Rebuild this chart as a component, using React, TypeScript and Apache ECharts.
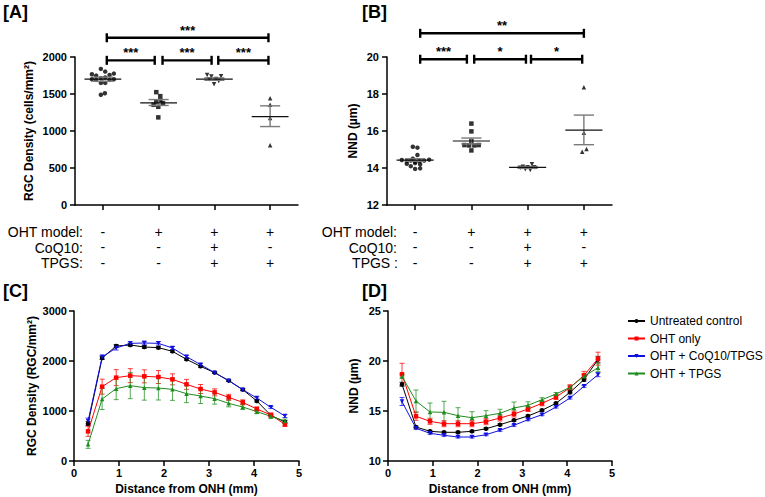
import React, { useEffect, useRef } from 'react';
import * as echarts from 'echarts';

const FONT = '"Liberation Sans", Arial, Helvetica, sans-serif';

// Treatment rows (panels A & B)
const ohtModel = ['-', '+', '+', '+'];
const coq10 = ['-', '-', '+', '-'];
const tpgs = ['-', '-', '+', '+'];
const groupPos = [1, 2, 3, 4];

// Panel A: RGC density scatter (values + horizontal jitter)
const aCtrlVals = [1839, 1767, 1749, 1803, 1758, 1776, 1700, 1691, 1713, 1722, 1691, 1700, 1650, 1650, 1489, 1511];
const aCtrlJit = [-0.036, -0.197, -0.12, 0.042, 0.12, 0.197, -0.197, -0.12, -0.036, 0.042, 0.12, 0.197, -0.036, 0.042, -0.036, 0.036];
const aOhtVals = [1525, 1471, 1399, 1413, 1377, 1354, 1327, 1184];
const aOhtJit = [-0.042, 0.03, -0.042, 0.03, 0.078, -0.09, -0.006, -0.006];
const aCoqVals = [1758, 1735, 1740, 1700, 1704, 1677, 1632];
const aCoqJit = [-0.13, -0.054, 0.12, -0.09, 0.03, 0.078, -0.006];
const aTpgsVals = [1444, 1354, 1175, 807];
const aTpgsJit = [0, 0, 0, 0];
const aMeans = [1700, 1381, 1700, 1195];
const aSemLo = [1672, 1345, 1685, 1060];
const aSemHi = [1728, 1425, 1718, 1340];

// Panel B: NND scatter
const bCtrlVals = [15.15, 15.1, 14.7, 14.5, 14.43, 14.38, 14.4, 14.34, 14.38, 14.4, 14.45, 14.23, 14.27, 14.2, 14.1, 13.95, 13.98];
const bCtrlJit = [-0.041, 0.041, 0.041, -0.041, -0.237, -0.148, -0.077, 0, 0.077, 0.16, 0.249, -0.148, 0, 0.089, -0.077, 0, 0.089];
const bOhtVals = [16.4, 15.98, 15.46, 15.24, 15.22, 15.22, 15.24, 14.95];
const bOhtJit = [0, 0, 0, -0.124, -0.041, 0.053, 0.13, 0];
const bCoqVals = [14.07, 14.04, 14.2, 14.02, 13.93, 13.89, 14.04];
const bCoqJit = [-0.083, 0, 0.077, -0.13, -0.041, 0.047, 0.118];
const bTpgsVals = [18.36, 15.91, 14.88, 15.03];
const bTpgsJit = [0, 0, -0.03, 0.047];
const bMeans = [14.43, 15.46, 14.03, 16.05];
const bSemLo = [14.36, 15.3, 13.98, 15.26];
const bSemHi = [14.5, 15.62, 14.08, 16.86];

// Significance brackets [from, to, height]
const aBrackets = [[1.07, 1.93, 1955], [2.07, 2.95, 1955], [3.07, 3.97, 1955], [1.07, 3.97, 2260]];
const aBracketLabels = ['***', '***', '***', '***'];
const bBrackets = [[1.09, 1.92, 19.88], [2.05, 2.97, 19.88], [3.06, 3.97, 19.88], [1.09, 4.0, 21.28]];
const bBracketLabels = ['***', '*', '*', '**'];

// Panels C & D: distance from ONH (mm)
const distances = [0.3125, 0.625, 0.9375, 1.25, 1.5625, 1.875, 2.1875, 2.5, 2.8125, 3.125, 3.4375, 3.75, 4.0625, 4.375, 4.6875];
const seriesNames = ['Untreated control', 'OHT only', 'OHT + CoQ10/TPGS', 'OHT + TPGS'];
const seriesColors = ['#000000', '#ff0000', '#1010e0', '#1e8c1e'];
const seriesSymbols = ['circle', 'rect', 'triangle', 'triangle'];
const seriesRotate = [0, 0, 180, 0];

const cCtrl = [750, 2060, 2300, 2320, 2280, 2267, 2193, 2033, 1893, 1767, 1607, 1427, 1200, 913, 780];
const cOht = [593, 1487, 1667, 1707, 1693, 1680, 1633, 1533, 1440, 1373, 1273, 1173, 1040, 920, 733];
const cCoq = [800, 2080, 2260, 2353, 2360, 2353, 2260, 2087, 1927, 1767, 1607, 1427, 1260, 1073, 900];
const cTpgs = [333, 1240, 1447, 1507, 1467, 1460, 1433, 1347, 1300, 1247, 1153, 1080, 987, 893, 800];
const cCtrlSem = [40, 30, 30, 25, 30, 25, 25, 20, 20, 15, 15, 20, 20, 20, 30];
const cOhtSem = [100, 150, 160, 140, 130, 130, 110, 100, 90, 70, 60, 50, 40, 40, 40];
const cCoqSem = [60, 40, 40, 30, 35, 35, 30, 25, 25, 15, 15, 20, 25, 20, 30];
const cTpgsSem = [80, 210, 220, 260, 250, 240, 220, 180, 150, 110, 70, 50, 40, 40, 40];

const dCtrl = [17.67, 13.4, 12.97, 12.87, 12.87, 12.97, 13.23, 13.63, 14.07, 14.5, 15.07, 15.77, 16.87, 18.13, 20.17];
const dOht = [18.67, 14.47, 13.97, 13.73, 13.73, 13.73, 13.93, 14.3, 14.7, 15.2, 15.77, 16.4, 17.33, 18.57, 20.23];
const dCoq = [15.95, 13.27, 12.77, 12.57, 12.4, 12.4, 12.63, 13.07, 13.57, 14.13, 14.63, 15.4, 16.3, 17.47, 18.63];
const dTpgs = [18.47, 16.0, 14.9, 14.87, 14.53, 14.33, 14.53, 14.77, 15.3, 15.57, 16.13, 16.7, 17.37, 18.47, 19.33];
const dCtrlSem = [0.2, 0.1, 0.1, 0.1, 0.1, 0.1, 0.1, 0.1, 0.1, 0.1, 0.1, 0.1, 0.15, 0.15, 0.3];
const dOhtSem = [1.1, 0.4, 0.3, 0.3, 0.3, 0.3, 0.3, 0.3, 0.3, 0.25, 0.25, 0.25, 0.3, 0.4, 0.65];
const dCoqSem = [0.4, 0.1, 0.1, 0.1, 0.1, 0.1, 0.1, 0.1, 0.1, 0.1, 0.1, 0.1, 0.1, 0.1, 0.2];
const dTpgsSem = [0.2, 1.1, 0.9, 1.1, 0.8, 0.6, 0.5, 0.4, 0.6, 0.35, 0.2, 0.15, 0.15, 0.2, 0.4];

const axisCommon = {
  axisLine: { lineStyle: { color: '#000', width: 1.5 } },
  axisTick: { length: 5, lineStyle: { color: '#000', width: 1.5 } },
  axisLabel: { color: '#000', fontWeight: 'bold', fontSize: 11, fontFamily: FONT, margin: 8, formatter: (v: number) => String(v) },
  splitLine: { show: false },
  nameTextStyle: { color: '#000', fontWeight: 'bold', fontSize: 12, fontFamily: FONT },
};

function groupAxis(gridIndex: number) {
  return {
    ...axisCommon,
    type: 'value',
    gridIndex,
    min: 0.5,
    max: 4.5,
    axisTick: { ...axisCommon.axisTick, customValues: groupPos },
    axisLabel: {
      color: '#000',
      fontSize: 14,
      fontFamily: FONT,
      lineHeight: 15.5,
      margin: 19,
      customValues: groupPos,
      formatter: (v: number) => {
        const i = Math.round(v) - 1;
        return [ohtModel[i], coq10[i], tpgs[i]].join('\n');
      },
    },
  };
}

function scatter(idx: number, vals: number[], jit: number[], center: number, symbol: string, rotate = 0) {
  return {
    type: 'scatter',
    xAxisIndex: idx,
    yAxisIndex: idx,
    symbol,
    symbolRotate: rotate,
    symbolSize: 4.5,
    itemStyle: { color: '#000' },
    data: vals.map((v, i) => [center + jit[i], v]),
    z: 3,
  };
}

function meanSemSeries(idx: number, means: number[], lo: number[], hi: number[]) {
  return {
    type: 'custom',
    xAxisIndex: idx,
    yAxisIndex: idx,
    encode: { x: 0, y: [1, 2, 3] },
    data: means.map((m, i) => [groupPos[i], m, lo[i], hi[i]]),
    z: 4,
    renderItem: (params: any, api: any) => {
      const x = api.value(0), m = api.value(1), l = api.value(2), h = api.value(3);
      const a = api.coord([x - 0.33, m]), b = api.coord([x + 0.33, m]);
      const t = api.coord([x, h]), bt = api.coord([x, l]);
      const cl = api.coord([x - 0.18, h]), cr = api.coord([x + 0.18, h]);
      const dl = api.coord([x - 0.18, l]), dr = api.coord([x + 0.18, l]);
      const semStyle = { stroke: '#7a7a7a', lineWidth: 1.4 };
      return {
        type: 'group',
        children: [
          { type: 'line', shape: { x1: t[0], y1: t[1], x2: bt[0], y2: bt[1] }, style: semStyle },
          { type: 'line', shape: { x1: cl[0], y1: cl[1], x2: cr[0], y2: cr[1] }, style: semStyle },
          { type: 'line', shape: { x1: dl[0], y1: dl[1], x2: dr[0], y2: dr[1] }, style: semStyle },
          { type: 'line', shape: { x1: a[0], y1: a[1], x2: b[0], y2: b[1] }, style: { stroke: '#111', lineWidth: 1.2 } },
        ],
      };
    },
  };
}

function bracketSeries(idx: number, brackets: number[][], labels: string[]) {
  return {
    type: 'custom',
    xAxisIndex: idx,
    yAxisIndex: idx,
    clip: false,
    encode: { x: [0, 1], y: 2 },
    data: brackets,
    z: 5,
    renderItem: (params: any, api: any) => {
      const p1 = api.coord([api.value(0), api.value(2)]);
      const p2 = api.coord([api.value(1), api.value(2)]);
      const st = { stroke: '#000', lineWidth: 2.4 };
      return {
        type: 'group',
        children: [
          { type: 'line', shape: { x1: p1[0], y1: p1[1], x2: p2[0], y2: p2[1] }, style: st },
          { type: 'line', shape: { x1: p1[0], y1: p1[1] - 4.5, x2: p1[0], y2: p1[1] + 4.5 }, style: st },
          { type: 'line', shape: { x1: p2[0], y1: p2[1] - 4.5, x2: p2[0], y2: p2[1] + 4.5 }, style: st },
          {
            type: 'text',
            x: (p1[0] + p2[0]) / 2,
            y: p1[1] - 1,
            style: {
              text: labels[params.dataIndex],
              align: 'center',
              verticalAlign: 'bottom',
              fontSize: 13,
              fontWeight: 'bold',
              fontFamily: FONT,
              fill: '#000',
            },
          },
        ],
      };
    },
  };
}

function lineSeries(idx: number, k: number, vals: number[]) {
  return {
    type: 'line',
    name: seriesNames[k],
    xAxisIndex: idx,
    yAxisIndex: idx,
    data: distances.map((d, i) => [d, vals[i]]),
    symbol: seriesSymbols[k],
    symbolRotate: seriesRotate[k],
    symbolSize: 4.5,
    showSymbol: true,
    color: seriesColors[k],
    lineStyle: { width: 1, color: seriesColors[k] },
    itemStyle: { color: seriesColors[k] },
    z: 3,
  };
}

function errorSeries(idx: number, k: number, vals: number[], sem: number[]) {
  const color = seriesColors[k];
  return {
    type: 'custom',
    xAxisIndex: idx,
    yAxisIndex: idx,
    encode: { x: 0, y: [1, 2] },
    data: distances.map((d, i) => [d, vals[i] - sem[i], vals[i] + sem[i]]),
    z: 2,
    renderItem: (params: any, api: any) => {
      const x = api.value(0);
      const p = api.coord([x, api.value(2)]);
      const q = api.coord([x, api.value(1)]);
      const st = { stroke: color, lineWidth: 1, opacity: 0.75 };
      return {
        type: 'group',
        children: [
          { type: 'line', shape: { x1: p[0], y1: p[1], x2: q[0], y2: q[1] }, style: st },
          { type: 'line', shape: { x1: p[0] - 2.5, y1: p[1], x2: p[0] + 2.5, y2: p[1] }, style: st },
          { type: 'line', shape: { x1: q[0] - 2.5, y1: q[1], x2: q[0] + 2.5, y2: q[1] }, style: st },
        ],
      };
    },
  };
}

function panelLabel(text: string, x: number, y: number) {
  return {
    type: 'text',
    x,
    y,
    style: { text, fontSize: 18, fontWeight: 'bold', fontFamily: FONT, fill: '#000', verticalAlign: 'top' },
  };
}

function rowHeader(text: string, x: number, y: number) {
  return {
    type: 'text',
    x,
    y,
    style: { text, fontSize: 14, fontFamily: FONT, fill: '#000', align: 'right', verticalAlign: 'middle' },
  };
}

export default function App() {
  const ref = useRef<HTMLDivElement>(null);
  useEffect(() => {
    if (!ref.current) return;
    const chart = echarts.init(ref.current, null, { renderer: 'svg' });
    const cSets = [cCtrl, cOht, cCoq, cTpgs];
    const cSems = [cCtrlSem, cOhtSem, cCoqSem, cTpgsSem];
    const dSets = [dCtrl, dOht, dCoq, dTpgs];
    const dSems = [dCtrlSem, dOhtSem, dCoqSem, dTpgsSem];
    const option: any = {
      animation: false,
      backgroundColor: '#fff',
      textStyle: { fontFamily: FONT },
      grid: [
        { left: 75, top: 57, width: 223, height: 148 },
        { left: 387, top: 57, width: 225, height: 148 },
        { left: 74, top: 311, width: 225, height: 150 },
        { left: 388, top: 311, width: 224, height: 150 },
      ],
      xAxis: [
        groupAxis(0),
        groupAxis(1),
        {
          ...axisCommon, type: 'value', gridIndex: 2, min: 0, max: 5, interval: 1,
          axisLabel: { ...axisCommon.axisLabel, margin: 6 },
          name: 'Distance from ONH (mm)', nameLocation: 'middle', nameGap: 22,
        },
        {
          ...axisCommon, type: 'value', gridIndex: 3, min: 0, max: 5, interval: 1,
          axisLabel: { ...axisCommon.axisLabel, margin: 6 },
          name: 'Distance from ONH (mm)', nameLocation: 'middle', nameGap: 22,
        },
      ],
      yAxis: [
        { ...axisCommon, type: 'value', gridIndex: 0, min: 0, max: 2000, interval: 500, name: 'RGC Density (cells/mm²)', nameLocation: 'middle', nameGap: 40 },
        { ...axisCommon, type: 'value', gridIndex: 1, min: 12, max: 20, interval: 2, name: 'NND (µm)', nameLocation: 'middle', nameGap: 28 },
        { ...axisCommon, type: 'value', gridIndex: 2, min: 0, max: 3000, interval: 1000, axisLabel: { ...axisCommon.axisLabel, margin: 7 }, name: 'RGC Density (RGC/mm²)', nameLocation: 'middle', nameGap: 36 },
        { ...axisCommon, type: 'value', gridIndex: 3, min: 10, max: 25, interval: 5, axisLabel: { ...axisCommon.axisLabel, margin: 7 }, name: 'NND (µm)', nameLocation: 'middle', nameGap: 28 },
      ],
      legend: {
        data: seriesNames,
        orient: 'vertical',
        left: 627,
        top: 313.5,
        padding: 0,
        itemWidth: 17,
        itemHeight: 5,
        itemGap: 2.5,
        textStyle: { fontSize: 12, fontFamily: FONT, color: '#000', lineHeight: 15 },
      },
      graphic: [
        panelLabel('[A]', 3, 3),
        panelLabel('[B]', 362, 3),
        panelLabel('[C]', 3, 282),
        panelLabel('[D]', 362, 282),
        rowHeader('OHT model:', 83, 232),
        rowHeader('CoQ10:', 83, 247.5),
        rowHeader('TPGS:', 83, 263),
        rowHeader('OHT model:', 397, 232),
        rowHeader('CoQ10:', 397, 247.5),
        rowHeader('TPGS :', 398, 263),
      ],
      series: [
        scatter(0, aCtrlVals, aCtrlJit, 1, 'circle'),
        scatter(0, aOhtVals, aOhtJit, 2, 'rect'),
        scatter(0, aCoqVals, aCoqJit, 3, 'triangle', 180),
        scatter(0, aTpgsVals, aTpgsJit, 4, 'triangle'),
        meanSemSeries(0, aMeans, aSemLo, aSemHi),
        bracketSeries(0, aBrackets, aBracketLabels),
        scatter(1, bCtrlVals, bCtrlJit, 1, 'circle'),
        scatter(1, bOhtVals, bOhtJit, 2, 'rect'),
        scatter(1, bCoqVals, bCoqJit, 3, 'triangle', 180),
        scatter(1, bTpgsVals, bTpgsJit, 4, 'triangle'),
        meanSemSeries(1, bMeans, bSemLo, bSemHi),
        bracketSeries(1, bBrackets, bBracketLabels),
        ...cSets.map((v, k) => errorSeries(2, k, v, cSems[k])),
        ...cSets.map((v, k) => ({ ...lineSeries(2, k, v), name: seriesNames[k] + ' ' })),
        ...dSets.map((v, k) => errorSeries(3, k, v, dSems[k])),
        ...dSets.map((v, k) => lineSeries(3, k, v)),
      ],
    };
    chart.setOption(option);
    return () => chart.dispose();
  }, []);
  return <div ref={ref} style={{ position: 'fixed', left: 0, top: 0, width: 765, height: 497 }} />;
}
